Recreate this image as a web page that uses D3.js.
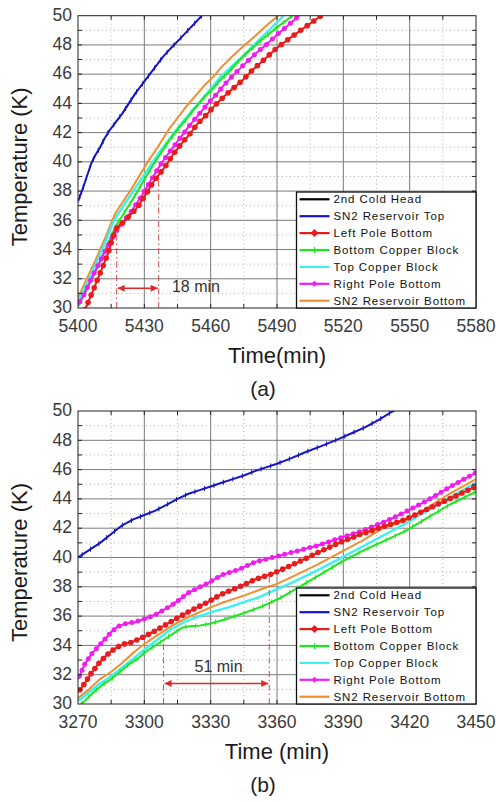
<!DOCTYPE html>
<html>
<head>
<meta charset="utf-8">
<script src="https://cdn.jsdelivr.net/npm/d3@7"></script>
<style>
  html, body { margin: 0; padding: 0; background: #fff; }
  svg { display: block; font-family: "Liberation Sans", Arial, sans-serif; }
</style>
</head>
<body>
<svg id="chart" width="496" height="802"></svg>
<script>
// ---- series definitions ----
const seriesNames = ["2nd Cold Head", "SN2 Reservoir Top", "Left Pole Bottom",
  "Bottom Copper Block", "Top Copper Block", "Right Pole Bottom", "SN2 Reservoir Bottom"];
const seriesColors = ["#000000", "#1414c4", "#e81c1c", "#1ee61e", "#3cf0f0", "#f01cf0", "#f28e2e"];
const seriesMarkers = ["none", "tick", "dot", "tick", "none", "dot", "none"];

// ---- tick labels ----
const yTickValues = [30, 32, 34, 36, 38, 40, 42, 44, 46, 48, 50];
const xTicksA = [5400, 5430, 5460, 5490, 5520, 5550, 5580];
const xTicksB = [3270, 3300, 3330, 3360, 3390, 3420, 3450];

// ---- panel (a): [time (min), temperature (K)] ----
const aColdHead = [];
const aResTop = [[5400,37.3],[5402,38.1],[5404,39.0],[5406,39.9],[5408,40.5],[5410,41.0],[5412,41.6],
  [5414,42.1],[5416,42.5],[5418,42.9],[5420,43.3],[5423,44.0],[5426,44.7],[5429.5,45.4],[5432.5,46.0],
  [5435.5,46.6],[5438.5,47.2],[5441.5,47.7],[5446,48.4],[5451,49.2],[5456,50.0]];
const aLeftPole = [[5400,29.2],[5403.5,30.0],[5406,30.9],[5409.5,32.2],[5413.5,33.7],[5416.5,35.2],
  [5418,35.6],[5420,35.8],[5422,36.1],[5424.5,36.5],[5427,36.9],[5429.5,37.5],[5432,38.1],[5434,38.6],
  [5436.5,39.1],[5440,39.8],[5443,40.5],[5446.5,41.2],[5450.5,41.9],[5454,42.6],[5458,43.2],
  [5461.5,43.8],[5465.5,44.4],[5470,45.0],[5474.5,45.6],[5479,46.3],[5483.5,46.9],[5490,47.8],
  [5497,48.6],[5503.5,49.3],[5510,50.0]];
const aBottomCu = [[5400,30.1],[5404,31.3],[5408,32.5],[5412,33.9],[5415,34.9],[5417,35.6],[5420,36.3],
  [5425,37.5],[5430,38.8],[5434,39.8],[5437.5,40.6],[5441,41.4],[5445,42.2],[5449,42.9],[5452.5,43.6],
  [5457,44.4],[5461,45.0],[5465,45.7],[5468.5,46.2],[5472,46.8],[5476,47.4],[5483.5,48.4],[5490,49.2],
  [5497,50.0]];
const aTopCu = [[5400,30.4],[5404,31.7],[5408,33.0],[5412,34.4],[5416,35.9],[5418,36.4],[5421,37.1],
  [5425,38.0],[5429,38.9],[5433,39.8],[5437,40.7],[5441.5,41.6],[5446,42.5],[5450.5,43.3],[5455,44.1],
  [5460,45.0],[5465,45.9],[5470,46.6],[5475,47.3],[5481.5,48.3],[5487,49.1],[5493,50.0]];
const aRightPole = [[5400,30.2],[5403,31.0],[5406,32.0],[5410,33.2],[5414,34.4],[5417,35.2],[5420,35.8],
  [5424,36.6],[5428.5,37.6],[5432,38.5],[5436,39.5],[5440,40.4],[5444,41.2],[5447.5,41.9],[5451,42.6],
  [5455,43.3],[5458.5,43.95],[5462.5,44.6],[5466,45.25],[5470,45.9],[5474,46.5],[5477.5,47.0],
  [5481,47.5],[5485,48.0],[5490,48.7],[5495,49.35],[5500,50.0]];
const aResBottom = [[5400,30.7],[5404,32.0],[5408,33.3],[5412,34.7],[5415.5,36.0],[5417,36.5],[5420,37.2],
  [5424,38.1],[5428,39.1],[5432,40.1],[5436,41.0],[5441,42.2],[5445,43.0],[5449,43.8],[5453,44.5],
  [5457,45.2],[5461,45.8],[5465,46.5],[5469,47.1],[5474,47.8],[5480,48.6],[5485,49.3],[5490.5,50.0]];

// ---- panel (b) ----
const bColdHead = [];
const bResTop = [[3270,40.0],[3275,40.5],[3280,41.0],[3285,41.6],[3290,42.2],[3295,42.6],[3300,42.9],
  [3305,43.2],[3310,43.6],[3315,44.0],[3320,44.35],[3325,44.6],[3330,44.85],[3335,45.1],[3340,45.35],
  [3345,45.6],[3350,45.9],[3355,46.15],[3360,46.4],[3366,46.75],[3373,47.2],[3380,47.6],[3388,48.1],
  [3394,48.5],[3400,48.9],[3406,49.4],[3412,49.95],[3414,50.1]];
const bLeftPole = [[3270,30.8],[3273,31.4],[3276,32.1],[3279,32.7],[3282,33.2],[3285,33.6],[3288,33.9],
  [3291,34.1],[3294,34.2],[3297,34.4],[3300,34.6],[3305,35.0],[3313,35.7],[3320,36.3],[3328,36.9],
  [3335,37.5],[3343,38.0],[3350,38.5],[3358,38.9],[3367,39.5],[3378,40.3],[3388,41.0],[3398,41.6],
  [3408,42.1],[3418,42.6],[3428,43.3],[3438,44.0],[3450,44.85]];
const bBottomCu = [[3270,29.8],[3273,30.2],[3277,30.8],[3281,31.3],[3285,31.7],[3289,32.2],[3293,32.7],
  [3297,33.1],[3301,33.6],[3305,34.0],[3309,34.4],[3313,34.8],[3317,35.2],[3320,35.3],[3325,35.35],
  [3330,35.5],[3337,35.8],[3345,36.2],[3353,36.65],[3361,37.2],[3368,37.8],[3378,38.7],[3388,39.6],
  [3398,40.4],[3408,41.1],[3418,41.8],[3428,42.7],[3438,43.6],[3450,44.5]];
const bTopCu = [[3270,30.2],[3275,30.8],[3280,31.4],[3285,31.9],[3290,32.5],[3295,33.1],[3300,33.7],
  [3306,34.4],[3312,35.1],[3318,35.6],[3324,35.95],[3330,36.25],[3338,36.6],[3345,36.95],[3352,37.3],
  [3358,37.7],[3367,38.3],[3378,39.1],[3388,39.9],[3398,40.7],[3408,41.5],[3418,42.3],[3428,43.2],
  [3438,44.1],[3450,45.1]];
const bRightPole = [[3270,31.7],[3273,32.7],[3276,33.4],[3279,33.9],[3282,34.4],[3285,34.9],[3288,35.3],
  [3292,35.5],[3296,35.6],[3300,35.8],[3305,36.1],[3313,36.8],[3320,37.6],[3328,38.2],[3335,38.8],
  [3343,39.2],[3350,39.7],[3358,40.0],[3368,40.4],[3378,40.8],[3388,41.3],[3398,41.8],[3408,42.4],
  [3418,43.1],[3428,43.9],[3438,44.8],[3450,45.8]];
const bResBottom = [[3270,30.4],[3275,31.0],[3280,31.7],[3285,32.2],[3290,32.8],[3295,33.5],[3300,34.1],
  [3306,34.7],[3312,35.3],[3318,35.8],[3324,36.2],[3330,36.6],[3336,36.95],[3345,37.4],[3354,37.9],
  [3360,38.2],[3367,38.7],[3378,39.5],[3388,40.3],[3398,41.1],[3408,42.0],[3418,42.5],[3428,43.4],
  [3438,44.35],[3450,45.35]];

// ---- delay annotations: [start time, end time], heights in K ----
const delayA = { from: 5417.5, to: 5436.5, fromTop: 35.2, toTop: 39.0, arrowAt: 31.35, label: "18 min", labelAt: [5442.5, 31.1] };
const delayB = { from: 3308.7, to: 3356.5, fromTop: 34.4, toTop: 39.0, arrowAt: 31.4, label: "51 min", labelAt: [3322.7, 32.2] };

// ---- layout ----
const plotLeft = 78, plotRight = 476;
const panels = [
  { id: "a", top: 15.7, bottom: 308, xDomain: [5400, 5580], xTicks: xTicksA, xTitle: "Time(min)", caption: "(a)",
    series: [aColdHead, aResTop, aLeftPole, aBottomCu, aTopCu, aRightPole, aResBottom], delay: delayA, dotStep: 8 },
  { id: "b", top: 411, bottom: 704, xDomain: [3270, 3450], xTicks: xTicksB, xTitle: "Time (min)", caption: "(b)",
    series: [bColdHead, bResTop, bLeftPole, bBottomCu, bTopCu, bRightPole, bResBottom], delay: delayB, dotStep: 6.5 }
];
const drawOrder = [6, 4, 3, 5, 2, 1, 0];

const svg = d3.select("#chart");
const defs = svg.append("defs");
defs.append("marker")
  .attr("id", "arrowHead").attr("viewBox", "0 0 10 10")
  .attr("refX", 10).attr("refY", 5)
  .attr("markerWidth", 8).attr("markerHeight", 7)
  .attr("markerUnits", "userSpaceOnUse")
  .attr("orient", "auto-start-reverse")
  .append("path").attr("d", "M0,0L10,5L0,10Z").attr("fill", "#e02828");

function pointsAlong(node, step) {
  const L = node.getTotalLength();
  const pts = [];
  for (let s = step / 2; s < L; s += step) pts.push(node.getPointAtLength(s));
  return pts;
}

function drawPanel(p) {
  const g = svg.append("g");
  const x = d3.scaleLinear().domain(p.xDomain).range([plotLeft, plotRight]);
  const y = d3.scaleLinear().domain([30, 50]).range([p.bottom, p.top]);
  const clipId = "clip-" + p.id;
  defs.append("clipPath").attr("id", clipId).append("rect")
    .attr("x", plotLeft).attr("y", p.top)
    .attr("width", plotRight - plotLeft).attr("height", p.bottom - p.top);

  // dotted minor grid
  const xMinor = d3.range(p.xDomain[0] + 15, p.xDomain[1], 30);
  const yMinor = d3.range(31, 50, 2);
  const grid = g.append("g");
  grid.selectAll(".xm").data(xMinor).join("line")
    .attr("x1", d => x(d)).attr("x2", d => x(d)).attr("y1", p.top).attr("y2", p.bottom)
    .attr("stroke", "#b5b5b5").attr("stroke-dasharray", "1,3");
  grid.selectAll(".ym").data(yMinor).join("line")
    .attr("x1", plotLeft).attr("x2", plotRight).attr("y1", d => y(d)).attr("y2", d => y(d))
    .attr("stroke", "#b5b5b5").attr("stroke-dasharray", "1,3");
  // solid major grid
  grid.selectAll(".xM").data(p.xTicks.slice(1, -1)).join("line")
    .attr("x1", d => x(d)).attr("x2", d => x(d)).attr("y1", p.top).attr("y2", p.bottom)
    .attr("stroke", "#7a7a7a").attr("stroke-width", 1);
  grid.selectAll(".yM").data(yTickValues.slice(1, -1)).join("line")
    .attr("x1", plotLeft).attr("x2", plotRight).attr("y1", d => y(d)).attr("y2", d => y(d))
    .attr("stroke", "#7a7a7a").attr("stroke-width", 1);

  // data lines
  const line = d3.line().x(d => x(d[0])).y(d => y(d[1]));
  const plot = g.append("g").attr("clip-path", `url(#${clipId})`);
  drawOrder.forEach(i => {
    const data = p.series[i];
    if (!data.length) return;
    const path = plot.append("path").datum(data)
      .attr("fill", "none").attr("stroke", seriesColors[i])
      .attr("stroke-width", i === 4 ? 2.4 : 2).attr("stroke-linejoin", "round")
      .attr("d", line);
    const pts = pointsAlong(path.node(), seriesMarkers[i] === "dot" ? p.dotStep : 10);
    if (seriesMarkers[i] === "dot") {
      plot.append("g").selectAll("circle").data(pts).join("circle")
        .attr("cx", d => d.x).attr("cy", d => d.y).attr("r", i === 2 ? 2.8 : 2.5)
        .attr("fill", seriesColors[i]);
    } else if (seriesMarkers[i] === "tick") {
      plot.append("g").selectAll("line").data(pts).join("line")
        .attr("x1", d => d.x).attr("x2", d => d.x).attr("y1", d => d.y - 2.5).attr("y2", d => d.y + 2.5)
        .attr("stroke", seriesColors[i]).attr("stroke-width", 1);
    }
  });

  // delay annotation
  const dl = p.delay;
  const ann = g.append("g");
  [[dl.from, dl.fromTop], [dl.to, dl.toTop]].forEach(([t, k]) => {
    ann.append("line")
      .attr("x1", x(t)).attr("x2", x(t)).attr("y1", p.bottom).attr("y2", y(k))
      .attr("stroke", "#d44848").attr("stroke-width", 1).attr("stroke-dasharray", "6,3,1.5,3");
  });
  ann.append("line")
    .attr("x1", x(dl.from) + 1).attr("x2", x(dl.to) - 1)
    .attr("y1", y(dl.arrowAt)).attr("y2", y(dl.arrowAt))
    .attr("stroke", "#e02828").attr("stroke-width", 1.5)
    .attr("marker-start", "url(#arrowHead)").attr("marker-end", "url(#arrowHead)");
  ann.append("text")
    .attr("x", x(dl.labelAt[0])).attr("y", y(dl.labelAt[1]))
    .attr("font-size", 16).attr("fill", "#333").text(dl.label);

  // frame
  g.append("rect").attr("x", plotLeft).attr("y", p.top)
    .attr("width", plotRight - plotLeft).attr("height", p.bottom - p.top)
    .attr("fill", "none").attr("stroke", "#222").attr("stroke-width", 1);

  // inner ticks on all four sides
  const tk = g.append("g").attr("stroke", "#222").attr("stroke-width", 1);
  const yAll = d3.range(31, 50, 1);
  tk.selectAll(".tl").data(yAll).join("line")
    .attr("x1", plotLeft).attr("x2", plotLeft + 4).attr("y1", d => y(d)).attr("y2", d => y(d));
  tk.selectAll(".tr").data(yAll).join("line")
    .attr("x1", plotRight).attr("x2", plotRight - 4).attr("y1", d => y(d)).attr("y2", d => y(d));
  const xAll = d3.range(p.xDomain[0] + 15, p.xDomain[1], 15);
  tk.selectAll(".tb").data(xAll).join("line")
    .attr("x1", d => x(d)).attr("x2", d => x(d)).attr("y1", p.bottom).attr("y2", p.bottom - 4);
  tk.selectAll(".tt").data(xAll).join("line")
    .attr("x1", d => x(d)).attr("x2", d => x(d)).attr("y1", p.top).attr("y2", p.top + 4);

  // tick labels
  g.append("g").selectAll("text").data(yTickValues).join("text")
    .attr("x", plotLeft - 6).attr("y", d => y(d)).attr("dy", "0.3em")
    .attr("text-anchor", "end").attr("font-size", 17.5).attr("fill", "#3a3a3a").text(d => d);
  g.append("g").selectAll("text").data(p.xTicks).join("text")
    .attr("x", d => x(d)).attr("y", p.bottom + 23.5)
    .attr("text-anchor", "middle").attr("font-size", 17.5).attr("fill", "#3a3a3a").text(d => d);

  // axis titles and caption
  g.append("text")
    .attr("transform", `translate(27,${(p.top + p.bottom) / 2 + 5}) rotate(-90)`)
    .attr("text-anchor", "middle").attr("font-size", 22).attr("fill", "#1a1a1a")
    .text("Temperature (K)");
  g.append("text")
    .attr("x", (plotLeft + plotRight) / 2).attr("y", p.bottom + 55)
    .attr("text-anchor", "middle").attr("font-size", 22).attr("fill", "#1a1a1a")
    .text(p.xTitle);
  g.append("text")
    .attr("x", 263).attr("y", p.bottom + 88)
    .attr("text-anchor", "middle").attr("font-size", 21).attr("fill", "#222")
    .text(p.caption);

  // legend
  const lgLeft = 296.5, rowH = 16.9, lgH = 6 * rowH + 14.6;
  const lgTop = p.bottom - lgH;
  const lg = g.append("g");
  lg.append("rect").attr("x", lgLeft).attr("y", lgTop)
    .attr("width", plotRight - lgLeft).attr("height", lgH)
    .attr("fill", "#fff").attr("stroke", "#111").attr("stroke-width", 1.3);
  seriesNames.forEach((name, i) => {
    const cy = lgTop + 7.3 + i * rowH;
    lg.append("line").attr("x1", lgLeft + 3).attr("x2", lgLeft + 33).attr("y1", cy).attr("y2", cy)
      .attr("stroke", seriesColors[i]).attr("stroke-width", 2.2);
    const mx = lgLeft + 18;
    if (seriesMarkers[i] === "dot") {
      const r = i === 2 ? 4 : 3;
      lg.append("path").attr("d", `M${mx},${cy - r}L${mx + r},${cy}L${mx},${cy + r}L${mx - r},${cy}Z`)
        .attr("fill", seriesColors[i]);
    } else if (seriesMarkers[i] === "tick" && i === 3) {
      lg.append("line").attr("x1", mx).attr("x2", mx).attr("y1", cy - 3).attr("y2", cy + 3)
        .attr("stroke", seriesColors[i]).attr("stroke-width", 1);
    }
    lg.append("text").attr("x", lgLeft + 37).attr("y", cy).attr("dy", "0.35em")
      .attr("font-size", 11.5).attr("letter-spacing", "0.9px").attr("fill", "#111")
      .text(name);
  });
}

panels.forEach(drawPanel);
</script>
</body>
</html>
